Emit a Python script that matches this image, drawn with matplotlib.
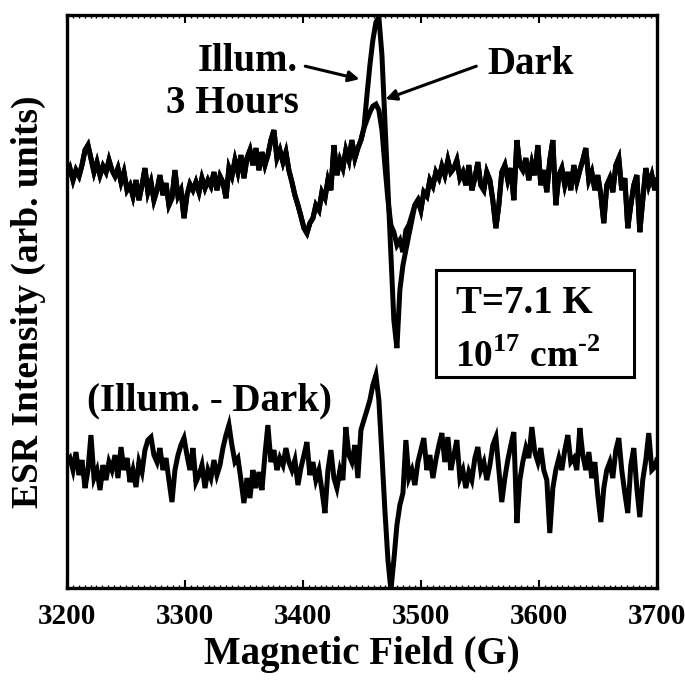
"""
ESR spectra: illuminated vs dark, and their difference.
"""

import matplotlib
matplotlib.use('Agg')
import matplotlib.pyplot as plt
from matplotlib.patches import Rectangle
from matplotlib.ticker import MultipleLocator

plt.rcParams['font.family'] = 'Liberation Serif'
plt.rcParams['font.weight'] = 'bold'
plt.rcParams['mathtext.fontset'] = 'custom'
plt.rcParams['mathtext.rm'] = 'Liberation Serif:bold'
plt.rcParams['mathtext.bf'] = 'Liberation Serif:bold'

# Magnetic field sweep (G)
field = [
    3200.0, 3202.5, 3205.1, 3207.6, 3210.2, 3212.7, 3215.3, 3217.8, 3220.3, 3222.9,
    3225.4, 3228.0, 3230.5, 3233.1, 3235.6, 3238.1, 3240.7, 3243.2, 3245.8, 3248.3,
    3250.9, 3253.4, 3255.9, 3258.5, 3261.0, 3263.6, 3266.1, 3268.6, 3271.2, 3273.7,
    3276.3, 3278.8, 3281.4, 3283.9, 3286.4, 3289.0, 3291.5, 3294.1, 3296.6, 3299.2,
    3301.7, 3304.2, 3306.8, 3309.3, 3311.9, 3314.4, 3317.0, 3319.5, 3322.0, 3324.6,
    3327.1, 3329.7, 3332.2, 3334.8, 3337.3, 3339.8, 3342.4, 3344.9, 3347.5, 3350.0,
    3352.6, 3355.1, 3357.6, 3360.2, 3362.7, 3365.3, 3367.8, 3370.3, 3372.9, 3375.4,
    3378.0, 3380.5, 3383.1, 3385.6, 3388.1, 3390.7, 3393.2, 3395.8, 3398.3, 3400.9,
    3403.4, 3405.9, 3408.5, 3411.0, 3413.6, 3416.1, 3418.7, 3421.2, 3423.7, 3426.3,
    3428.8, 3431.4, 3433.9, 3436.4, 3439.0, 3441.5, 3444.1, 3446.6, 3449.2, 3451.7,
    3454.3, 3456.8, 3459.3, 3461.9, 3464.4, 3467.0, 3469.5, 3472.1, 3474.6, 3477.1,
    3479.7, 3482.2, 3484.8, 3487.3, 3489.8, 3492.4, 3494.9, 3497.5, 3500.0, 3502.5,
    3505.1, 3507.6, 3510.2, 3512.7, 3515.3, 3517.8, 3520.3, 3522.9, 3525.4, 3528.0,
    3530.5, 3533.1, 3535.6, 3538.1, 3540.7, 3543.2, 3545.8, 3548.3, 3550.8, 3553.4,
    3555.9, 3558.5, 3561.0, 3563.6, 3566.1, 3568.6, 3571.2, 3573.7, 3576.3, 3578.8,
    3581.4, 3583.9, 3586.4, 3589.0, 3591.5, 3594.1, 3596.6, 3599.2, 3601.7, 3604.2,
    3606.8, 3609.3, 3611.9, 3614.4, 3617.0, 3619.5, 3622.0, 3624.6, 3627.1, 3629.7,
    3632.2, 3634.8, 3637.3, 3639.8, 3642.4, 3644.9, 3647.5, 3650.0, 3652.6, 3655.1,
    3657.6, 3660.2, 3662.7, 3665.3, 3667.8, 3670.3, 3672.9, 3675.4, 3678.0, 3680.5,
    3683.1, 3685.6, 3688.1, 3690.7, 3693.2, 3695.8, 3698.3, 3700.0,
]

# Upper spectrum, part shared by both curves (below the resonance)
esr_low_side = [
    413, 420, 408, 418, 412, 423, 438, 443, 430, 416,
    426, 413, 422, 416, 428, 418, 412, 420, 406, 416,
    398, 403, 392, 408, 388, 403, 420, 396, 406, 388,
    398, 413, 393, 405, 383, 390, 418, 392, 398, 370,
    393, 404, 398, 406, 396, 410, 400, 408, 402, 416,
    398, 412, 406, 390, 420, 412, 428, 416, 433, 410,
    430, 438, 423, 440, 418, 436, 423, 433, 448, 458,
    430, 438, 426, 436, 418, 406, 393, 383, 372, 360,
    355, 365, 370, 383, 378, 396, 390, 408, 398, 443,
    413, 428, 420, 438, 428, 448, 430, 440, 448, 460,
]

# Resonance region (3454 - 3492 G)
esr_illum_peak = [493, 523, 548, 566, 571, 533, 468, 398, 333, 268,
                  240, 298, 323, 338, 353, 368]
esr_dark_peak = [468, 476, 482, 484, 478, 458, 423, 388, 363, 356,
                 343, 348, 336, 358, 363, 373]

# Upper spectrum, part shared by both curves (above the resonance)
esr_high_side = [
    383, 388, 378, 396, 392, 408, 402, 416, 410, 422,
    413, 428, 416, 420, 428, 410, 416, 403, 423, 398,
    410, 426, 403, 398, 416, 408, 388, 360, 383, 416,
    423, 408, 420, 388, 448, 423, 418, 430, 408, 425,
    413, 443, 403, 418, 396, 428, 448, 383, 413, 420,
    403, 416, 398, 423, 406, 418, 428, 440, 408, 416,
    398, 413, 393, 365, 403, 410, 396, 423, 430, 398,
    410, 360, 383, 403, 413, 356, 388, 420, 403, 413,
    398, 408,
]

# Difference spectrum (Illum. - Dark)
esr_diff = [
    126, 130, 118, 136, 113, 128, 100, 118, 153, 110,
    118, 98, 123, 108, 126, 118, 133, 110, 141, 118,
    130, 106, 118, 101, 126, 116, 138, 148, 151, 133,
    126, 140, 118, 130, 108, 86, 118, 133, 143, 150,
    133, 118, 140, 106, 113, 123, 100, 118, 110, 128,
    113, 123, 140, 153, 163, 143, 126, 130, 108, 85,
    110, 90, 118, 100, 116, 98, 133, 163, 126, 138,
    118, 130, 123, 140, 126, 118, 128, 103, 120, 133,
    146, 113, 126, 108, 118, 98, 75, 118, 138, 110,
    100, 118, 108, 161, 133, 126, 143, 110, 158, 168,
    178, 188, 203, 213, 188, 133, 78, 28, -2, 28,
    63, 83, 95, 148, 110, 118, 103, 126, 138, 150,
    118, 133, 110, 128, 143, 155, 126, 151, 118, 133,
    148, 110, 118, 100, 116, 108, 130, 141, 118, 126,
    108, 123, 143, 151, 118, 86, 110, 128, 143, 156,
    65, 108, 126, 140, 130, 161, 136, 126, 140, 118,
    108, 55, 100, 118, 130, 118, 138, 153, 126, 130,
    118, 160, 133, 118, 136, 110, 126, 93, 66, 100,
    118, 126, 110, 138, 150, 118, 95, 75, 123, 140,
    100, 71, 108, 128, 155, 118, 121, 128,
]

esr_illum = esr_low_side + esr_illum_peak + esr_high_side
esr_dark = esr_low_side + esr_dark_peak + esr_high_side

fig = plt.figure(figsize=(6.85, 6.91), dpi=100)
ax = fig.add_axes([0.0978, 0.149, 0.861, 0.829])

ax.plot(field, esr_dark, color='black', lw=3.6, solid_joinstyle='miter')
ax.plot(field, esr_illum, color='black', lw=3.6, solid_joinstyle='miter')
ax.plot(field, esr_diff, color='black', lw=3.6, solid_joinstyle='miter')

ax.set_xlim(3200, 3700)
ax.set_ylim(0, 573)

ax.xaxis.set_major_locator(MultipleLocator(100))
ax.xaxis.set_minor_locator(MultipleLocator(5))
ax.tick_params(axis='x', which='major', direction='in', length=6, width=1.5,
               top=True, labelsize=21, pad=11)
ax.tick_params(axis='x', which='minor', direction='in', length=2.5, width=1,
               top=True)
ax.set_yticks([])
for lbl in ax.get_xticklabels():
    lbl.set_fontweight('bold')
for sp in ax.spines.values():
    sp.set_linewidth(2.4)

ax.set_xlabel('Magnetic Field (G)', fontsize=28, fontweight='bold', labelpad=4)
ax.set_ylabel('ESR Intensity (arb. units)', fontsize=27, fontweight='bold',
              labelpad=15)

# Annotations
ax.text(3353, 527, 'Illum.', fontsize=28, fontweight='bold', ha='center', va='center')
ax.text(3340, 485, '3 Hours', fontsize=28, fontweight='bold', ha='center', va='center')
ax.text(3593, 524, 'Dark', fontsize=28, fontweight='bold', ha='center', va='center')
ax.text(3321, 187, '(Illum. - Dark)', fontsize=28, fontweight='bold',
        ha='center', va='center')
ax.annotate('', xy=(3448, 509), xytext=(3402, 522),
            arrowprops=dict(arrowstyle='-|>', color='black', lw=2.2,
                            mutation_scale=16, shrinkA=0, shrinkB=0))
ax.annotate('', xy=(3470, 489), xytext=(3547, 522),
            arrowprops=dict(arrowstyle='-|>', color='black', lw=2.2,
                            mutation_scale=16, shrinkA=0, shrinkB=0))

# Conditions box
ax.add_patch(Rectangle((3512.7, 211), 167.8, 107, fill=False, lw=2.2, color='black'))
ax.text(3588, 285, 'T=7.1 K', fontsize=28, fontweight='bold', ha='center', va='center')
ax.text(3591, 231, r'10$^{17}$ cm$^{\text{-}2}$', fontsize=27, fontweight='bold',
        ha='center', va='center')

plt.savefig('out.png', dpi=100, facecolor='white')
plt.close()
